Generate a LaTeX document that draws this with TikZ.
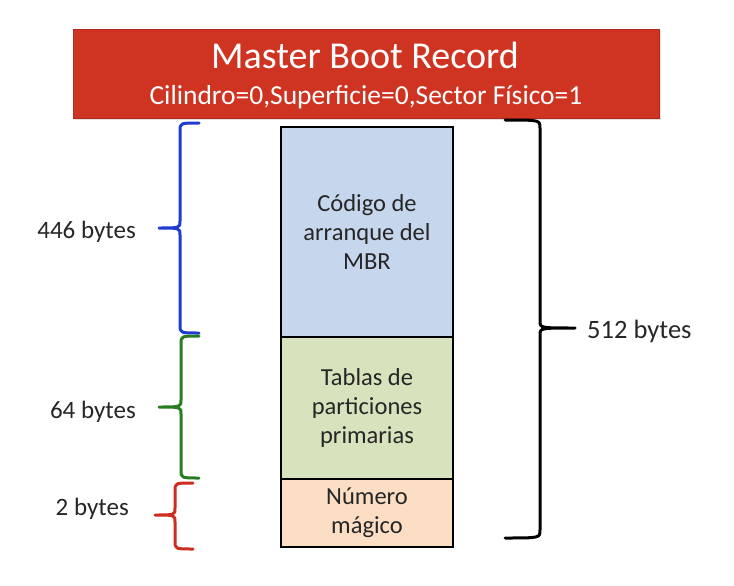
\documentclass[tikz,border=0pt]{standalone}
\usepackage{fontspec}
\setmainfont{Carlito}
\usepackage{tikz}
\usetikzlibrary{positioning,shadows}
\definecolor{mbrred}{RGB}{206,52,33}
\definecolor{codeblue}{RGB}{198,214,236}
\definecolor{tablegreen}{RGB}{215,227,189}
\definecolor{magicorange}{RGB}{251,222,196}
\definecolor{braceblue}{RGB}{30,60,210}
\definecolor{bracegreen}{RGB}{40,125,35}
\definecolor{bracered}{RGB}{205,45,30}
% brace: colour, tip x, stem x, point x, top y, middle y, bottom y
\newcommand{\sidebrace}[7]{%
  \draw[#1, line width=3pt, line cap=round, line join=round]
    (#2,#5) .. controls (#3,#5) .. (#3,#5+8) -- (#3,#6-7)
    .. controls (#3,#6) .. (#4,#6) .. controls (#3,#6) .. (#3,#6+7)
    -- (#3,#7-8) .. controls (#3,#7) .. (#2,#7);}

\begin{document}
\begin{tikzpicture}[
      x=1pt, y=-1pt,
      header/.style={fill=mbrred, draw=mbrred!85!black, line width=0.8pt,
                     minimum width=586pt, minimum height=89pt, inner sep=0pt,
                     drop shadow={opacity=0.25, shadow xshift=1.5pt,
                                  shadow yshift=-1.5pt}},
      headtext/.style={text=white, inner sep=0pt, anchor=base},
      field/.style={draw=black, line width=2.2pt, align=center,
                    minimum width=172pt, inner sep=0pt, outer sep=0pt,
                    font=\fontsize{24.5}{29}\selectfont, text=black!85},
      size/.style={font=\fontsize{25}{30}\selectfont, text=black!85,
                   inner sep=0pt},
    ]
    \useasboundingbox (0,0) rectangle (734,586);

    % title bar
    \node[header] (mbr) at (366,74) {};
    \node[headtext, font=\fontsize{38}{42}\selectfont] (title) at (365,69)
      {Master Boot Record};
    \node[headtext, font=\fontsize{27.5}{31}\selectfont] (place) at (366,105)
      {Cilindro=0,Superficie=0,Sector Físico=1};

    % sector fields
    \node[field, fill=codeblue, minimum height=210pt, anchor=north] (code)
      at (367,127) {Código de\\arranque del\\MBR};
    \node[field, fill=tablegreen, minimum height=142pt, below=0pt of code] (tables)
      {Tablas de\\particiones\\primarias};
    \node[field, fill=magicorange, minimum height=68pt, below=0pt of tables] (magic)
      {Número\\mágico};

    % braces
    \sidebrace{braceblue}{199}{180}{159}{123}{228}{333}
    \sidebrace{bracegreen}{199}{181}{159}{336}{407}{478}
    \sidebrace{bracered}{193}{175}{155}{483}{515}{549}
    \sidebrace{black}{505}{540}{575}{120}{328}{538}

    % sizes
    \node[size, anchor=east] (codesize) at (136,232) {446 bytes};
    \node[size, anchor=east] (tablesize) at (136,412) {64 bytes};
    \node[size, anchor=east] (magicsize) at (129,509) {2 bytes};
    \node[size, anchor=west, font=\fontsize{26.5}{30}\selectfont] (sectorsize)
      at (587,331) {512 bytes};
  \end{tikzpicture}
\end{document}
